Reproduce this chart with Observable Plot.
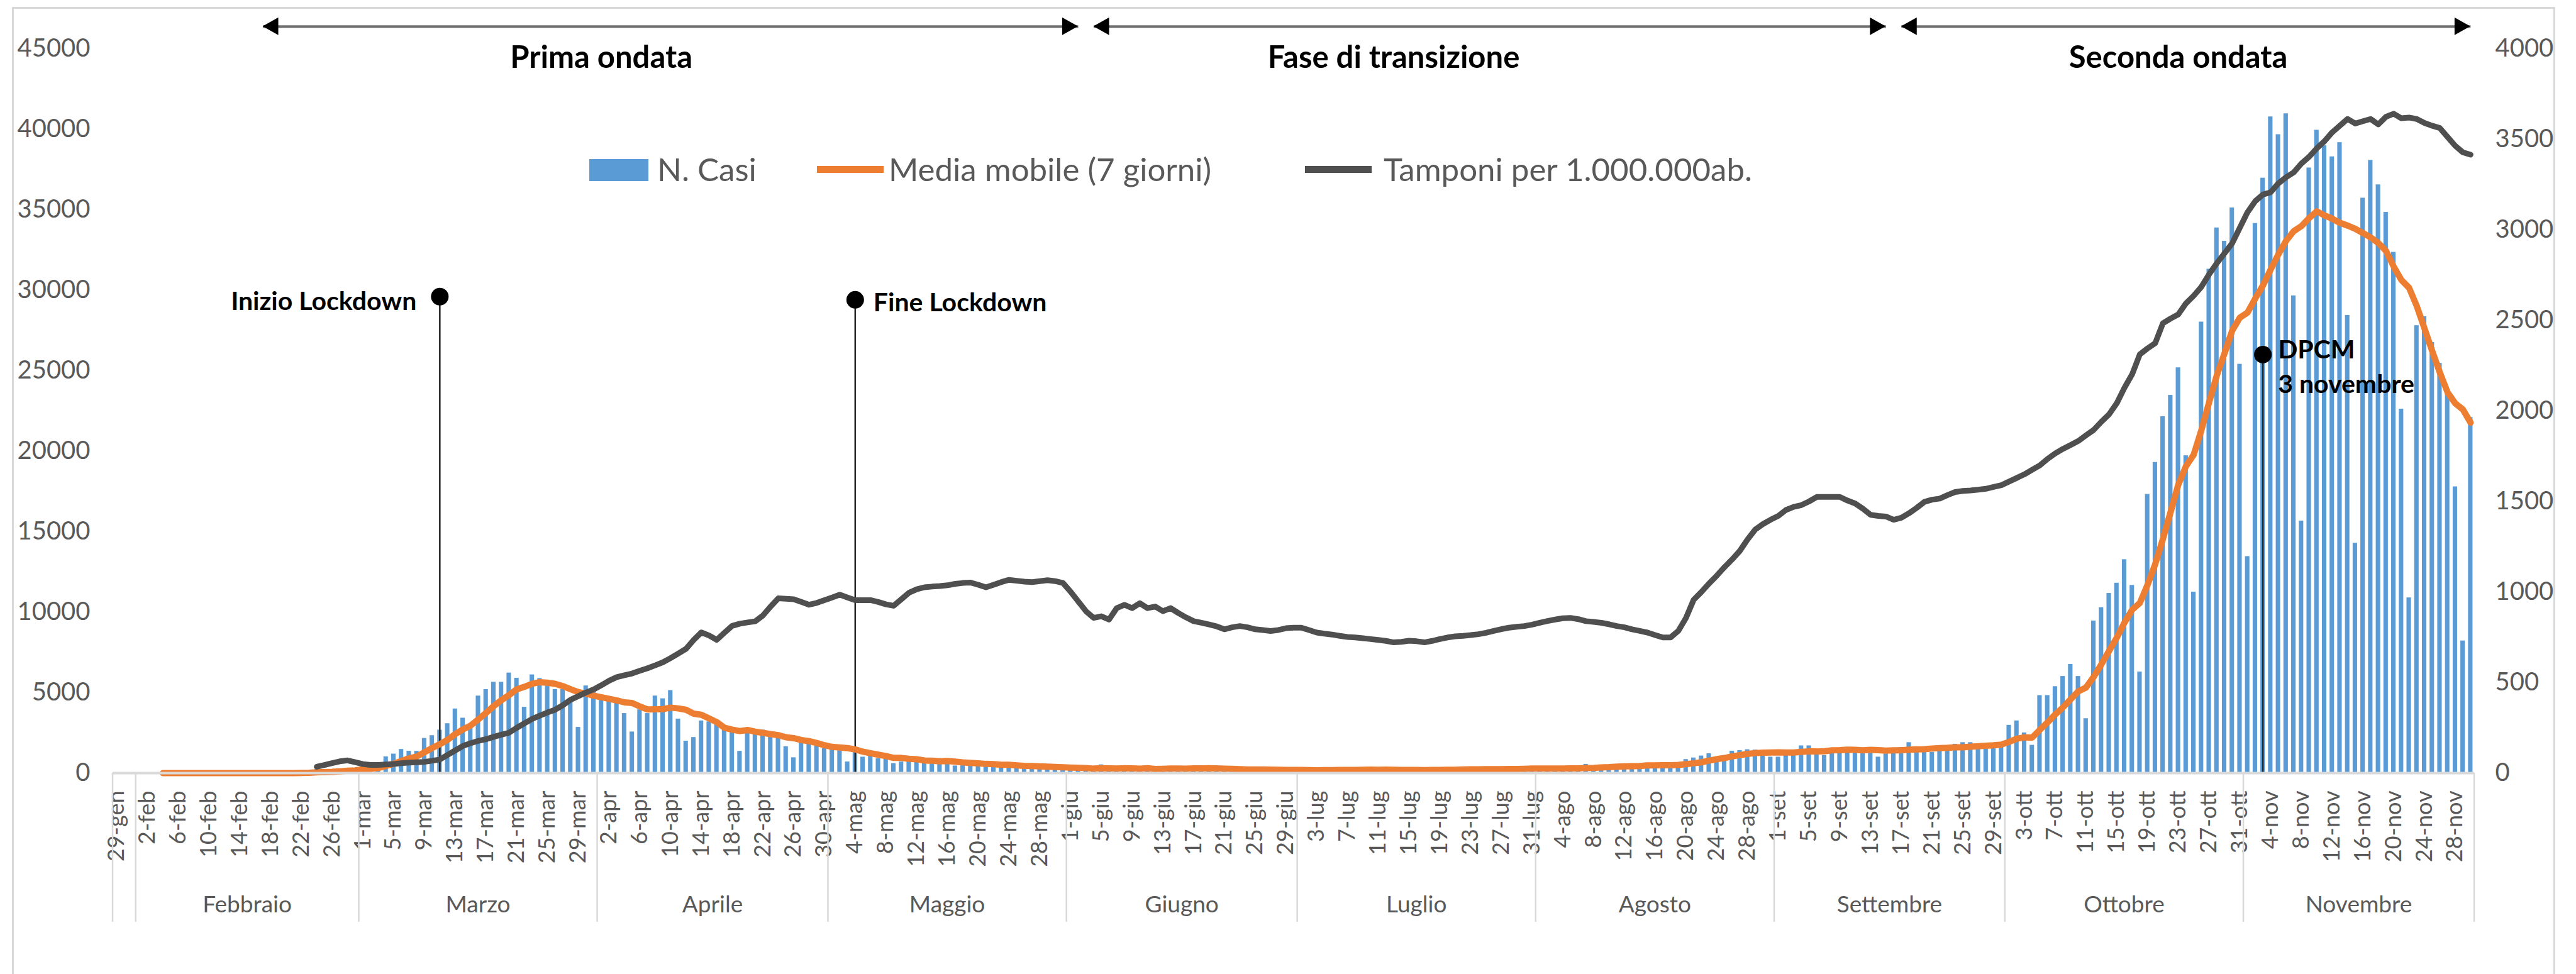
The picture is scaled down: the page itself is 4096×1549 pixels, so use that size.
<!DOCTYPE html>
<html><head><meta charset="utf-8">
<script src="https://cdn.jsdelivr.net/npm/d3@7"></script>
<script src="https://cdn.jsdelivr.net/npm/@observablehq/plot@0.6"></script>
<style>
html,body{margin:0;padding:0;background:#fff;}
#wrap{position:relative;width:4096px;height:1549px;overflow:hidden;font-family:Lato,sans-serif;}
#frame{position:absolute;left:19px;top:11px;width:4044px;height:1600px;border:3px solid #d9d9d9;box-sizing:border-box;}
#chart{position:absolute;left:0;top:0;}
.lg{position:absolute;}
.lgt{position:absolute;font-size:51px;line-height:60px;color:#595959;white-space:nowrap;}
</style></head><body>
<div id="wrap"><div id="frame"></div><div id="chart"></div><div id="legend"></div></div>
<script>
// ---- categories ----
const monthAbbr = ["gen","feb","mar","apr","mag","giu","lug","ago","set","ott","nov"];
const monthNames = ["","Febbraio","Marzo","Aprile","Maggio","Giugno","Luglio","Agosto","Settembre","Ottobre","Novembre"];
const monthFirst = [29,1,1,1,1,1,1,1,1,1,1];
const monthLast  = [31,29,31,30,31,30,31,31,30,31,30];
const dates = monthAbbr.flatMap((m,i)=>d3.range(monthFirst[i], monthLast[i]+1).map(d=>`${d}-${m}`));

const tickLabels = ["29-gen","2-feb","6-feb","10-feb","14-feb","18-feb","22-feb","26-feb",
"1-mar","5-mar","9-mar","13-mar","17-mar","21-mar","25-mar","29-mar",
"2-apr","6-apr","10-apr","14-apr","18-apr","22-apr","26-apr","30-apr",
"4-mag","8-mag","12-mag","16-mag","20-mag","24-mag","28-mag",
"1-giu","5-giu","9-giu","13-giu","17-giu","21-giu","25-giu","29-giu",
"3-lug","7-lug","11-lug","15-lug","19-lug","23-lug","27-lug","31-lug",
"4-ago","8-ago","12-ago","16-ago","20-ago","24-ago","28-ago",
"1-set","5-set","9-set","13-set","17-set","21-set","25-set","29-set",
"3-ott","7-ott","11-ott","15-ott","19-ott","23-ott","27-ott","31-ott",
"4-nov","8-nov","12-nov","16-nov","20-nov","24-nov","28-nov"];
const leftTicks = [0,5000,10000,15000,20000,25000,30000,35000,40000,45000];
const rightTicks = [0,500,1000,1500,2000,2500,3000,3500,4000];

// ---- N. Casi (daily) ----
const casesGen = [0,0,0];
const casesFeb = [0,0,0,0,0,0,0,0,0,0,0,0,0,0,0,0,0,0,0,0,14,62,53,221,93,78,250,238,240];
const casesMar = [566,342,466,1018,1190,1477,1362,1362,2163,2335,2678,3078,3993,3421,3000,4795,5195,5653,5653,6225,5900,4100,6110,5882,5424,5200,5200,4566,2850,5424,5024];
const casesApr = [4737,4509,4509,3708,2563,3937,3708,4795,4623,5138,3365,1991,2220,3250,3193,3021,2678,2563,1361,2678,2506,2678,2506,2220,1648,961,1877,1991,1877,1533];
const casesMag = [1500,1400,700,1300,1000,1200,900,900,600,700,900,800,700,800,650,700,450,550,600,500,550,520,480,400,300,380,450,430,380,320,250];
const casesGiu = [180,320,320,180,520,270,200,280,280,200,380,160,350,340,300,210,330,330,250,260,220,220,120,190,300,260,180,170,130,140];
const casesLug = [190,200,220,240,190,210,140,190,230,280,190,230,170,110,160,230,230,250,220,220,130,280,310,250,280,260,170,210,290,390,380];
const casesAgo = [300,240,160,190,380,400,550,350,460,260,410,480,520,570,630,480,320,400,640,850,950,1070,1210,950,880,1370,1410,1460,1440,1370,1000];
const casesSet = [1000,1300,1400,1700,1700,1300,1100,1400,1400,1600,1600,1500,1500,1000,1200,1500,1600,1900,1600,1600,1300,1400,1600,1800,1900,1900,1800,1500,1600,1900];
const casesOtt = [2976,3251,2507,1735,4826,4826,5378,6012,6757,6012,3389,9459,10287,11170,11804,13267,11667,6287,17322,19308,22151,23475,25185,19722,11253,28027,31310,33876,33048,35118,25405];
const casesNov = [13459,34152,36966,40774,39670,40967,29655,15667,37601,39946,38980,38291,39174,28441,14287,35725,38070,36552,34842,32359,22620,10894,27806,28358,26758,25460,23723,17791,8217,22096];
const cases = [...casesGen,...casesFeb,...casesMar,...casesApr,...casesMag,...casesGiu,...casesLug,...casesAgo,...casesSet,...casesOtt,...casesNov];

// ---- Tamponi per 1.000.000 ab. (right axis), from 24-feb ----
const tamponiFrom = "24-feb";
const tampFeb = [35,45,55,65,70,60];
const tampMar = [50,45,45,48,50,55,58,60,62,68,75,100,125,150,165,178,187,200,212,223,250,275,299,317,335,350,375,405,425,445,462];
const tampApr = [485,510,530,540,550,565,579,595,612,635,660,686,735,777,760,736,775,813,825,832,838,870,920,965,963,960,945,930,940,955];
const tampMag = [970,985,970,955,955,955,945,932,924,960,996,1015,1026,1030,1033,1037,1045,1050,1052,1040,1026,1040,1055,1067,1062,1057,1055,1060,1065,1060,1050];
const tampGiu = [1002,948,894,857,866,848,911,929,911,938,911,920,894,911,884,860,839,830,821,810,794,805,812,805,794,790,785,790,800,803];
const tampLug = [803,790,776,770,765,758,752,749,745,740,735,730,722,725,731,728,722,730,740,749,755,758,762,767,775,785,795,803,808,812,820];
const tampAgo = [830,840,848,855,857,850,839,835,830,822,812,805,794,785,776,762,749,749,785,857,957,1000,1047,1090,1137,1180,1227,1290,1345,1375,1399];
const tampSet = [1420,1453,1470,1480,1500,1525,1525,1525,1525,1505,1489,1460,1426,1420,1417,1399,1410,1435,1465,1498,1510,1516,1535,1552,1558,1561,1565,1570,1580,1590];
const tampOtt = [1610,1630,1650,1675,1699,1735,1765,1790,1812,1834,1865,1895,1940,1981,2042,2128,2202,2312,2345,2374,2484,2510,2533,2594,2636,2685,2754,2815,2870,2925,3011];
const tampNov = [3097,3158,3195,3207,3256,3290,3317,3366,3403,3450,3489,3538,3575,3612,3587,3600,3612,3582,3624,3641,3616,3620,3612,3590,3575,3562,3513,3464,3428,3415];
const tamponi = [...tampFeb,...tampMar,...tampApr,...tampMag,...tampGiu,...tampLug,...tampAgo,...tampSet,...tampOtt,...tampNov];

// ---- annotations ----
const phases = [
  {label:"Prima ondata", from:"17-feb", to:"2-giu", mid:"1-apr"},
  {label:"Fase di transizione", from:"4-giu", to:"15-set", mid:"13-lug"},
  {label:"Seconda ondata", from:"17-set", to:"30-nov", mid:"23-ott"}
];
const phaseArrowY = 46380, phaseLabelY = 44420;
const eventsLeft = [{date:"11-mar", y:29600, label:"Inizio Lockdown"}];
const eventsRight = [{date:"4-mag", y:29400, label:"Fine Lockdown"}];
const eventsDPCM = [{date:"3-nov", y:26000, label:"DPCM\n3 novembre"}];
const events = [...eventsLeft, ...eventsRight, ...eventsDPCM];

// ---- build ----
const K = 45000/4000; // right axis -> left axis units
const casesData = dates.map((d,i)=>({date:d, v:cases[i]}));
const t0 = dates.indexOf(tamponiFrom);
const tampData = tamponi.map((v,i)=>({date:dates[t0+i], v:v*K}));

const plot = Plot.plot({
  width: 4096, height: 1549,
  marginLeft: 179, marginRight: 162, marginTop: 77, marginBottom: 320,
  style: {fontFamily:"Lato, sans-serif", background:"transparent", overflow:"visible", color:"#595959"},
  x: {type:"band", domain: dates, paddingInner:0.42, paddingOuter:0.21, align:0.5, round:false},
  y: {domain:[0,45000]},
  marks: [
    Plot.barY(casesData, {x:"date", y:"v", fill:"#5b9bd5"}),
    Plot.ruleX(events, {x:"date", y1:0, y2:"y", stroke:"#262626", strokeWidth:2.5}),
    Plot.lineY(casesData, Plot.windowY({k:7, anchor:"end", strict:true}, {x:"date", y:"v", stroke:"#ed7d31", strokeWidth:10, strokeLinejoin:"round"})),
    Plot.lineY(tampData, {x:"date", y:"v", stroke:"#4f4f4f", strokeWidth:9, strokeLinejoin:"round"}),
    Plot.dot(events, {x:"date", y:"y", r:14, fill:"#000"}),
    Plot.text(eventsLeft, {x:"date", y:"y", text:"label", textAnchor:"end", dx:-37, dy:8, fontSize:41, fontWeight:"bold", fill:"#000"}),
    Plot.text(eventsRight, {x:"date", y:"y", text:"label", textAnchor:"start", dx:29, dy:5, fontSize:41, fontWeight:"bold", fill:"#000"}),
    Plot.text(eventsDPCM, {x:"date", y:"y", text:"label", textAnchor:"start", dx:24, dy:16, lineHeight:1.35, fontSize:41, fontWeight:"bold", fill:"#000"}),
    Plot.link(phases, {x1:"from", x2:"to", y1:()=>phaseArrowY, y2:()=>phaseArrowY, stroke:"#6f6f6f", strokeWidth:4}),
    Plot.text(phases, {x:"mid", y:()=>phaseLabelY, text:"label", fontSize:49, fontWeight:"bold", fill:"#000"}),
    Plot.axisY({ticks:leftTicks, tickFormat:t=>String(t), tickSize:0, tickPadding:36, fontSize:40, label:null}),
    Plot.axisY({anchor:"right", ticks:rightTicks.map(t=>t*K), tickFormat:t=>String(Math.round(t/K)), tickSize:0, tickPadding:33, fontSize:40, label:null}),
    Plot.axisX({ticks:tickLabels, tickRotate:-90, tickSize:0, tickPadding:28, fontSize:36, label:null}),
    Plot.ruleY([0], {stroke:"#d9d9d9", strokeWidth:4})
  ]
});
document.getElementById("chart").appendChild(plot);

// ---- multi-level axis (month groups) and arrowheads, via the plot's scales ----
const xs = plot.scale("x"), ys = plot.scale("y");
const bw = xs.bandwidth;
const stepW = (xs.range[1]-xs.range[0]) / (dates.length - 0.42 + 2*0.21);
const gap = (stepW - bw)/2;
const svg = d3.select(plot);
const g = svg.append("g");
const y0 = ys.apply(0);
const sepBottom = y0 + 237;
const monthStarts = monthAbbr.map((m,i)=>`${monthFirst[i]}-${m}`);
const bounds = monthStarts.map(d=>xs.apply(d)-gap);
bounds.push(xs.apply(dates[dates.length-1]) + bw + gap);
bounds.forEach(bx=>{
  g.append("line").attr("x1",bx).attr("x2",bx).attr("y1",y0).attr("y2",sepBottom)
   .attr("stroke","#d9d9d9").attr("stroke-width",2.5);
});
monthNames.forEach((name,i)=>{
  if(!name) return;
  g.append("text").attr("x",(bounds[i]+bounds[i+1])/2).attr("y",y0+222)
   .attr("text-anchor","middle").attr("font-size",37).attr("fill","#595959").text(name);
});
const ay = ys.apply(phaseArrowY);
phases.forEach(p=>{
  const xl = xs.apply(p.from)+bw/2, xr = xs.apply(p.to)+bw/2;
  g.append("path").attr("d",`M${xl},${ay} L${xl+25},${ay-14} L${xl+25},${ay+14} Z`).attr("fill","#000");
  g.append("path").attr("d",`M${xr},${ay} L${xr-25},${ay-14} L${xr-25},${ay+14} Z`).attr("fill","#000");
});

// ---- legend ----
const legend = document.getElementById("legend");
legend.innerHTML = `
<div class="lg" style="left:937px;top:253px;width:94px;height:35px;background:#5b9bd5"></div>
<div class="lgt" style="left:1045px;top:239px">N. Casi</div>
<div class="lg" style="left:1299px;top:264px;width:106px;height:11px;background:#ed7d31"></div>
<div class="lgt" style="left:1413px;top:239px">Media mobile (7 giorni)</div>
<div class="lg" style="left:2075px;top:264px;width:106px;height:11px;background:#4f4f4f"></div>
<div class="lgt" style="left:2200px;top:239px">Tamponi per 1.000.000ab.</div>`;
</script>
</body></html>
